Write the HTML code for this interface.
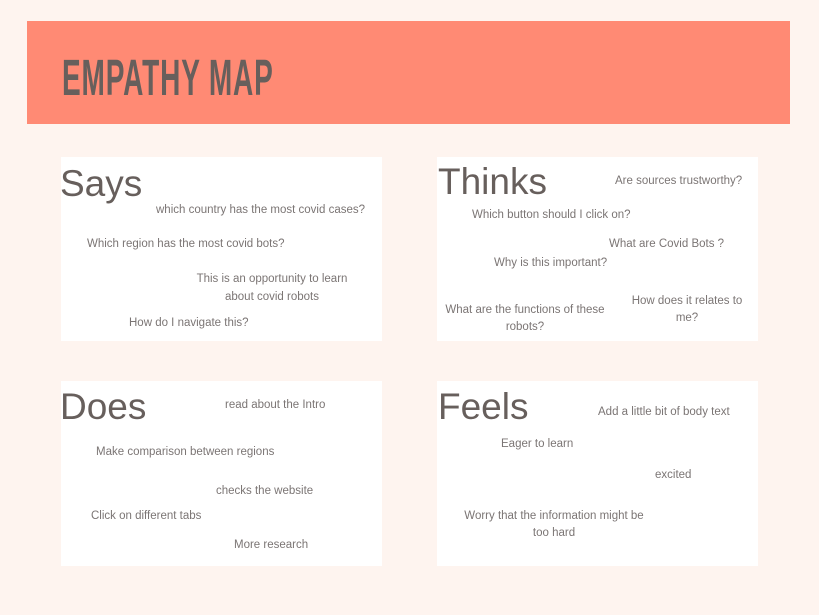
<!DOCTYPE html>
<html><head><meta charset="utf-8"><style>
body{margin:0;width:819px;height:615px;background:#fef4ef;position:relative;overflow:hidden;font-family:"Liberation Sans",sans-serif}
.ban{position:absolute;left:27px;top:21px;width:763px;height:103px;background:#ff8a74}
.title{position:absolute;left:62px;top:52px;font-size:51px;font-weight:bold;color:#675f5c;transform:scaleX(0.55);transform-origin:left top;letter-spacing:1.5px;line-height:52px}
.box{position:absolute;background:#fff;width:321px;height:184px}
.h{position:absolute;font-size:37px;color:#675f5c;line-height:40px}
.t{position:absolute;font-size:11.5px;color:#7b7574;line-height:14px;white-space:nowrap;margin-top:1px}
.c{text-align:center}
</style></head><body>
<div class="ban"></div>
<div class="title">EMPATHY MAP</div>
<div class="box" style="left:61px;top:157px"></div>
<div class="box" style="left:437px;top:157px"></div>
<div class="box" style="left:61px;top:381px;height:185px"></div>
<div class="box" style="left:437px;top:381px;height:185px"></div>
<div class="h" style="left:60px;top:164px">Says</div>
<div class="h" style="left:438px;top:162px">Thinks</div>
<div class="h" style="left:60px;top:387px">Does</div>
<div class="h" style="left:438px;top:387px">Feels</div>

<div class="t" style="left:156px;top:202px">which country has the most covid cases?</div>
<div class="t" style="left:87px;top:236px">Which region has the most covid bots?</div>
<div class="t c" style="left:172px;top:269px;width:200px;line-height:18px">This is an opportunity to learn<br>about covid robots</div>
<div class="t" style="left:129px;top:315px">How do I navigate this?</div>

<div class="t" style="left:615px;top:173px">Are sources trustworthy?</div>
<div class="t" style="left:472px;top:207px">Which button should I click on?</div>
<div class="t" style="left:609px;top:236px">What are Covid Bots ?</div>
<div class="t" style="left:494px;top:255px">Why is this important?</div>
<div class="t c" style="left:425px;top:301px;width:200px;line-height:17px">What are the functions of these<br>robots?</div>
<div class="t c" style="left:617px;top:292px;width:140px;line-height:17px">How does it relates to<br>me?</div>

<div class="t" style="left:225px;top:397px">read about the Intro</div>
<div class="t" style="left:96px;top:444px">Make comparison between regions</div>
<div class="t" style="left:216px;top:483px">checks the website</div>
<div class="t" style="left:91px;top:508px">Click on different tabs</div>
<div class="t" style="left:234px;top:537px">More research</div>

<div class="t" style="left:598px;top:404px">Add a little bit of body text</div>
<div class="t" style="left:501px;top:436px">Eager to learn</div>
<div class="t" style="left:655px;top:467px">excited</div>
<div class="t c" style="left:444px;top:507px;width:220px;line-height:17px">Worry that the information might be<br>too hard</div>
</body></html>
